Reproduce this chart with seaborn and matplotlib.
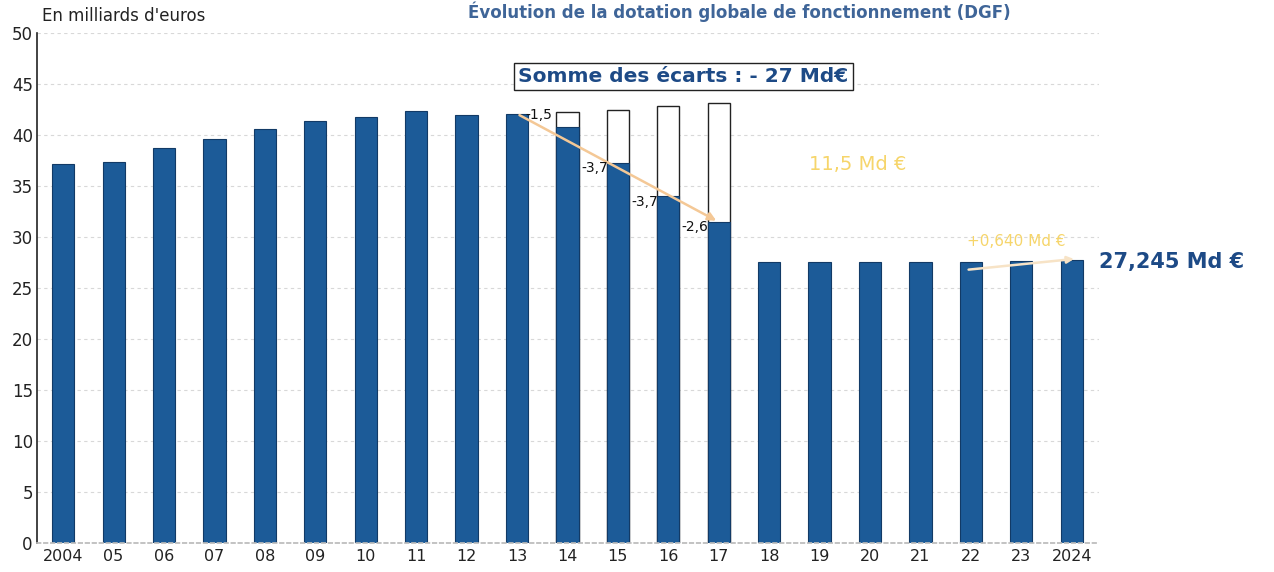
import matplotlib
matplotlib.use("Agg")
import matplotlib.pyplot as plt
import seaborn as sns
import pandas as pd

# ---- data ----
years = ["2004", "05", "06", "07", "08", "09", "10", "11", "12", "13", "14",
         "15", "16", "17", "18", "19", "20", "21", "22", "23", "2024"]
dgf = [37.2, 37.4, 38.7, 39.6, 40.6, 41.4, 41.75, 42.4, 42.0, 42.1, 40.8,
       37.25, 34.0, 31.5, 27.6, 27.6, 27.55, 27.55, 27.6, 27.7, 27.8]
potential_years = ["14", "15", "16", "17"]
potential_values = [42.3, 42.5, 42.9, 43.2]
ecart_years = ["13", "15", "16", "17"]
ecart_labels = ["-1,5", "-3,7", "-3,7", "-2,6"]
yticks = [0, 5, 10, 15, 20, 25, 30, 35, 40, 45, 50]

BLUE = "#1c5b98"
NAVY = "#1d4a86"
YELLOW = "#f6d56a"
PEACH = "#f4c896"

sns.set_theme(style="white")
plt.rcParams["font.family"] = ["DejaVu Sans"]

fig = plt.figure(figsize=(12.74, 5.72), dpi=100)
ax = fig.add_axes([0.029, 0.05, 0.834, 0.892])

df_main = pd.DataFrame({"annee": years, "montant": dgf})
df_pot = pd.DataFrame({"annee": potential_years, "montant": potential_values})

sns.barplot(data=df_pot, x="annee", y="montant", order=years, color="white",
            edgecolor="#222222", linewidth=1.0, width=0.44, ax=ax, saturation=1)
sns.barplot(data=df_main, x="annee", y="montant", order=years, color=BLUE,
            edgecolor="#123a66", linewidth=0.8, width=0.44, ax=ax, saturation=1)

ax.set_xlim(-0.52, 20.55)
ax.set_ylim(0, 50)
ax.set_yticks(yticks)
ax.set_yticklabels([str(t) for t in yticks], fontsize=12, color="#222222")
ax.tick_params(axis="x", labelsize=11.5, colors="#222222", pad=4, length=0)
ax.tick_params(axis="y", pad=3, length=0)
ax.set_xlabel("")
ax.set_ylabel("")
for s in ["top", "right"]:
    ax.spines[s].set_visible(False)
ax.spines["left"].set_color("#222222")
ax.spines["left"].set_linewidth(1.2)
ax.spines["bottom"].set_color("#bbbbbb")
ax.spines["bottom"].set_linestyle((0, (2, 2)))
ax.yaxis.grid(True, color="#d8d8d8", linestyle=(0, (3, 3)), linewidth=0.8)
ax.set_axisbelow(True)

idx = {y: i for i, y in enumerate(years)}

# decline arrow 2013 -> 2017
i0, i1 = idx["13"], idx["17"]
ax.annotate("", xy=(i1, dgf[i1]), xytext=(i0, dgf[i0]),
            arrowprops=dict(arrowstyle="-|>", color=PEACH, lw=1.8,
                            mutation_scale=12), zorder=5)
for y, lab in zip(ecart_years, ecart_labels):
    i = idx[y]
    if y == "13":
        ax.text(i + 0.16, dgf[i] - 0.1, lab, fontsize=10, color="#111111",
                ha="left", va="center", zorder=6)
    else:
        ax.text(i - 0.2, dgf[i] - 0.5, lab, fontsize=10, color="#111111",
                ha="right", va="center", zorder=6)

# small rise arrow 2022 -> 2024
j0, j1 = idx["22"], idx["2024"]
ax.annotate("", xy=(j1 + 0.1, dgf[j1] + 0.1), xytext=(j0 - 0.1, dgf[j0] - 0.8),
            arrowprops=dict(arrowstyle="-|>", color="#f7e3c6", lw=1.8,
                            mutation_scale=10), zorder=5)

ax.text(15.75, 37.1, "11,5 Md €", fontsize=14, color=YELLOW, ha="center",
        va="center")
ax.text(18.9, 29.6, "+0,640 Md €", fontsize=11, color=YELLOW, ha="center",
        va="center")
ax.text(20.55, 27.6, "27,245 Md €", fontsize=15, color=NAVY, ha="left",
        va="center", fontweight="bold", clip_on=False)

ax.text(12.3, 45.75, "Somme des écarts : - 27 Md€", fontsize=14.5, color=NAVY,
        ha="center", va="center", fontweight="bold",
        bbox=dict(boxstyle="square,pad=0.2", facecolor="white",
                  edgecolor="#222222", linewidth=1.0))

fig.text(0.033, 0.972, "En milliards d'euros", fontsize=12, color="#222222",
         ha="left", va="center")
fig.text(0.58, 0.997, "Évolution de la dotation globale de fonctionnement (DGF)",
         fontsize=12, color=NAVY, fontweight="bold", ha="center", va="top",
         alpha=0.85)

fig.savefig("out.png", dpi=100)
